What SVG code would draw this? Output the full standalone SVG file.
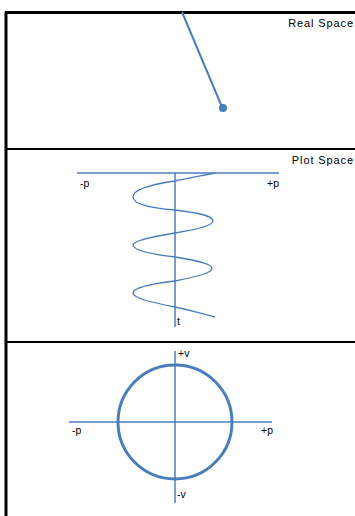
<svg xmlns="http://www.w3.org/2000/svg" width="355" height="516" viewBox="0 0 355 516">
<style>
.frame{stroke:#000;fill:none}
.ax{stroke:#4a7ebb;stroke-width:1.5;fill:none}
.cv{stroke:#4a7ebb;fill:none}
text{font-family:"Liberation Sans",Arial,sans-serif;font-size:10.5px;fill:#000}
.title{font-size:11px;letter-spacing:0.9px}
</style>
<rect width="355" height="516" fill="#fff"/>
<g id="frame">
<line class="frame" x1="6" y1="12" x2="6" y2="516" stroke-width="3"/>
<line class="frame" x1="5" y1="12.5" x2="355" y2="12.5" stroke-width="3"/>
<line class="frame" x1="5" y1="149" x2="355" y2="149" stroke-width="2"/>
<line class="frame" x1="5" y1="342" x2="355" y2="342" stroke-width="2"/>
</g>
<g id="real-space">
<text class="title" x="354" y="27" text-anchor="end">Real Space</text>
<line class="cv" x1="182" y1="12" x2="222" y2="107" stroke-width="2"/>
<circle cx="223" cy="108" r="4" fill="#4a7ebb"/>
</g>
<g id="plot-space">
<text class="title" x="354" y="164" text-anchor="end">Plot Space</text>
<line class="ax" x1="77" y1="173" x2="279" y2="173"/>
<line class="ax" x1="175" y1="173" x2="175" y2="327"/>
<text x="80" y="187">-p</text>
<text x="267" y="187">+p</text>
<text x="177" y="325">t</text>
<path class="cv" stroke-width="1.3" d="M215,173 C200,176 188,178 175,181 C147,185 133,190 133,197 C133,204 150,208 175,210 C200,213 213,216 213,221 C213,225 200,229 175,233 C150,237 133,241 133,245 C133,250 150,254 175,257 C200,261 212,264 212,268 C212,273 200,276 175,281 C150,284 133,288 133,293 C133,298 150,302 175,307 C190,310 203,314 215,317"/>
</g>
<g id="phase-space">
<line class="ax" x1="69" y1="422" x2="272" y2="422"/>
<line class="ax" x1="175" y1="351" x2="175" y2="503"/>
<circle class="cv" cx="175" cy="422" r="57" stroke-width="3"/>
<text x="178" y="357">+v</text>
<text x="177" y="498">-v</text>
<text x="72" y="434">-p</text>
<text x="261" y="434">+p</text>
</g>
</svg>
